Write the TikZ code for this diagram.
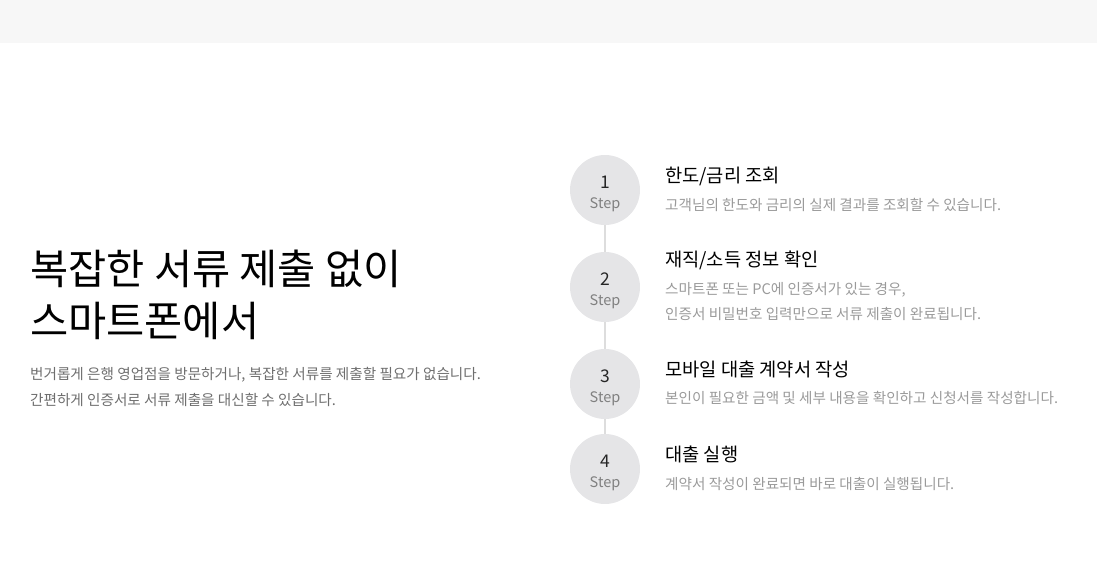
\documentclass[tikz,border=0pt]{standalone}
\usepackage{fontspec}
\setmainfont{Noto Sans CJK KR}
\definecolor{bandgray}{HTML}{F7F7F7}
\definecolor{circgray}{HTML}{E5E5E7}
\definecolor{linegray}{HTML}{DDDDDD}
\definecolor{stepgray}{HTML}{808080}
\definecolor{descgray}{HTML}{9A9A9A}
\definecolor{paragray}{HTML}{6E6E6E}
\begin{document}
\begin{tikzpicture}[x=1pt,y=-1pt,
  stepcircle/.style={circle,fill=circgray,minimum size=70pt,inner sep=0pt},
  stepnum/.style={font=\fontsize{17.5}{17.5}\selectfont,text=black!85,inner sep=0pt},
  steplabel/.style={font=\fontsize{14.5}{14.5}\selectfont,text=stepgray,inner sep=0pt},
  steptitle/.style={anchor=west,font=\fontsize{18.7}{18.7}\selectfont,text=black,inner sep=0pt},
  stepdesc/.style={anchor=west,font=\fontsize{14.6}{14.6}\selectfont,text=descgray,inner sep=0pt},
  heading/.style={anchor=west,font=\fontsize{41.5}{41.5}\selectfont,text=black,inner sep=0pt},
  para/.style={anchor=west,font=\fontsize{14.6}{14.6}\selectfont,text=paragray,inner sep=0pt},
  joinline/.style={draw=linegray,line width=2pt}]
\useasboundingbox (0,0) rectangle (1097,564);
\fill[bandgray] (0,0) rectangle (1097,43);

% left text
\node[heading] (h1) at (30,269) {복잡한 서류 제출 없이};
\node[heading] (h2) at (30,321) {스마트폰에서};
\node[para] (p1) at (30,375) {번거롭게 은행 영업점을 방문하거나, 복잡한 서류를 제출할 필요가 없습니다.};
\node[para] (p2) at (30,400) {간편하게 인증서로 서류 제출을 대신할 수 있습니다.};

% circles
\node[stepcircle] (c1) at (605,190) {};
\node[stepcircle] (c2) at (605,287) {};
\node[stepcircle] (c3) at (605,384) {};
\node[stepcircle] (c4) at (605,469) {};
\draw[joinline] (c1.south) -- (c2.north);
\draw[joinline] (c2.south) -- (c3.north);
\draw[joinline] (c3.south) -- (c4.north);

\node[stepnum] (n1) at (605,182) {1};
\node[steplabel] (s1) at (605,205) {Step};
\node[stepnum] (n2) at (605,279) {2};
\node[steplabel] (s2) at (605,302) {Step};
\node[stepnum] (n3) at (605,376) {3};
\node[steplabel] (s3) at (605,399) {Step};
\node[stepnum] (n4) at (605,461) {4};
\node[steplabel] (s4) at (605,484) {Step};

% step texts
\node[steptitle] (t1) at (665,176) {한도/금리 조회};
\node[stepdesc] (d1) at (665,205) {고객님의 한도와 금리의 실제 결과를 조회할 수 있습니다.};
\node[steptitle] (t2) at (665,260) {재직/소득 정보 확인};
\node[stepdesc] (d2a) at (665,290) {스마트폰 또는 PC에 인증서가 있는 경우,};
\node[stepdesc] (d2b) at (665,314) {인증서 비밀번호 입력만으로 서류 제출이 완료됩니다.};
\node[steptitle] (t3) at (665,369) {모바일 대출 계약서 작성};
\node[stepdesc] (d3) at (665,398) {본인이 필요한 금액 및 세부 내용을 확인하고 신청서를 작성합니다.};
\node[steptitle] (t4) at (665,454) {대출 실행};
\node[stepdesc] (d4) at (665,484) {계약서 작성이 완료되면 바로 대출이 실행됩니다.};
\end{tikzpicture}
\end{document}
